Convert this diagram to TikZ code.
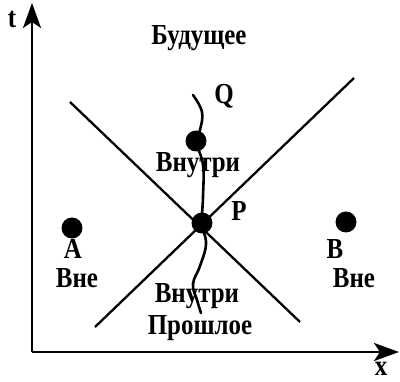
\documentclass[tikz,border=0pt]{standalone}
\usepackage{fontspec}
\setmainfont{Liberation Serif}[FakeStretch=0.86]
\usetikzlibrary{arrows.meta}
\begin{document}
\begin{tikzpicture}[x=1pt,y=-1pt,
  lbl/.style={font=\fontsize{29}{29}\selectfont\bfseries, anchor=base, inner sep=0pt},
  axis/.style={line width=2.4pt, -{Stealth[length=25pt,width=18pt,inset=6pt]}},
  cone/.style={line width=2.3pt},
  wline/.style={line width=2.6pt, line cap=round},
  dot/.style={circle, fill=black, inner sep=0pt, minimum size=21pt}]
\useasboundingbox (0,0) rectangle (400,382);
% axes
\coordinate (O) at (32,352);
\coordinate (tT) at (32,3);
\coordinate (xT) at (399,352);
\draw[axis] (O) -- (tT);
\draw[axis] (O) -- (xT);
\node[lbl] (tl) at (12,28) {t};
\node[lbl] (xl) at (381,376) {x};
% light cone
\coordinate (c1) at (70,102);
\coordinate (c2) at (300,322);
\coordinate (c3) at (95,327);
\coordinate (c4) at (354,78);
\draw[cone] (c1) -- (c2);
\draw[cone] (c3) -- (c4);
% world line
\draw[wline] plot[smooth, tension=0.7] coordinates {(193,95) (202,112) (200,130) (196,141) (203,165) (203,197) (202,223) (206,244) (200,266) (193,284) (197,300) (201,313)};
% dots
\node[dot] (Qd) at (196,141) {};
\node[dot] (P) at (202,223) {};
\node[dot] (A) at (72,228) {};
\node[dot] (B) at (346,222) {};
% labels
\node[lbl] (fut) at (199,45) {Будущее};
\node[lbl] (Ql) at (224,104) {Q};
\node[lbl] (in1) at (198,172) {Внутри};
\node[lbl] (Pl) at (239,221) {P};
\node[lbl] (Al) at (73,259) {A};
\node[lbl] (An) at (77,288) {Вне};
\node[lbl] (Bl) at (335,259) {B};
\node[lbl] (Bn) at (354,288) {Вне};
\node[lbl] (in2) at (197,303) {Внутри};
\node[lbl] (past) at (200,335) {Прошлое};
\end{tikzpicture}
\end{document}
